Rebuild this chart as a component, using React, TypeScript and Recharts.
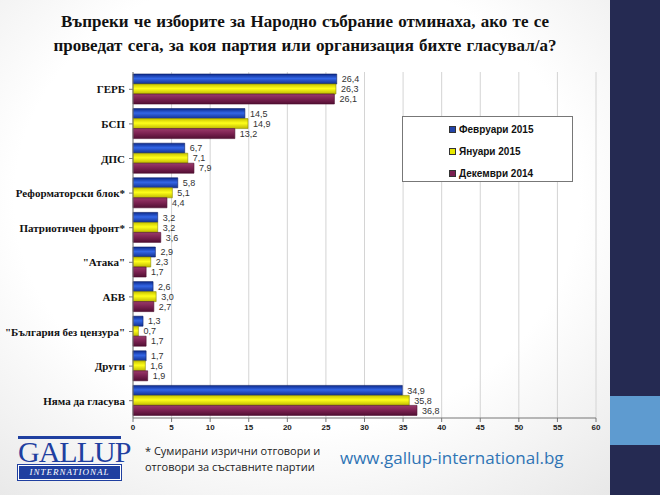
import { BarChart, Bar, XAxis, YAxis, CartesianGrid, LabelList } from "recharts";

const parties = [
  "ГЕРБ",
  "БСП",
  "ДПС",
  "Реформаторски блок*",
  "Патриотичен фронт*",
  "\"Атака\"",
  "АБВ",
  "\"България без цензура\"",
  "Други",
  "Няма да гласува",
];
const feb2015 = [26.4, 14.5, 6.7, 5.8, 3.2, 2.9, 2.6, 1.3, 1.7, 34.9];
const jan2015 = [26.3, 14.9, 7.1, 5.1, 3.2, 2.3, 3.0, 0.7, 1.6, 35.8];
const dec2014 = [26.1, 13.2, 7.9, 4.4, 3.6, 1.7, 2.7, 1.7, 1.9, 36.8];
const xTicks = [0, 5, 10, 15, 20, 25, 30, 35, 40, 45, 50, 55, 60];

const data = parties.map((name, i) => ({
  name,
  feb: feb2015[i],
  jan: jan2015[i],
  dec: dec2014[i],
}));

const series = [
  { key: "feb", label: "Февруари 2015", fill: "url(#gBlue)", marker: "#2244aa", stroke: "#0b1f66" },
  { key: "jan", label: "Януари 2015", fill: "url(#gYellow)", marker: "#e8e800", stroke: "#8a8a00" },
  { key: "dec", label: "Декември 2014", fill: "url(#gMaroon)", marker: "#7a1f4f", stroke: "#4a0a2c" },
];

const fmt = (v: any) => String(Number(v).toFixed(1)).replace(".", ",");

function LegendBox() {
  return (
    <div
      style={{
        position: "absolute",
        left: 402,
        top: 116,
        width: 171,
        height: 66,
        background: "#fff",
        border: "1px solid #777",
        boxSizing: "border-box",
        paddingTop: 1,
        fontFamily: "Arial, 'Liberation Sans', sans-serif",
        fontWeight: "bold",
        fontSize: 10,
        color: "#111",
      }}
    >
      {series.map((s) => (
        <div key={s.key} style={{ display: "flex", alignItems: "center", height: 22, paddingLeft: 46 }}>
          <span style={{ width: 5, height: 5, background: s.marker, border: "0.5px solid #333", marginRight: 3 }} />
          {s.label}
        </div>
      ))}
    </div>
  );
}

function YTick(props: any) {
  const { x, y, payload } = props;
  return (
    <text
      x={x}
      y={y}
      dy={4}
      textAnchor="end"
      fontFamily="'Liberation Serif', 'Times New Roman', serif"
      fontWeight="bold"
      fontSize={11}
      fill="#111"
    >
      {payload.value}
    </text>
  );
}

export default function App() {
  return (
    <div
      style={{
        position: "absolute",
        left: 0,
        top: 0,
        width: 660,
        height: 495,
        overflow: "hidden",
        background: "radial-gradient(ellipse at 45% 40%, #ffffff 55%, #e4e4e4 100%)",
      }}
    >
      <div style={{ position: "absolute", left: 610, top: 0, width: 50, height: 495, background: "#252a52" }} />
      <div style={{ position: "absolute", left: 610, top: 396, width: 50, height: 49, background: "#5e9bd0" }} />

      <div
        style={{
          position: "absolute",
          left: 0,
          top: 10,
          width: 610,
          textAlign: "center",
          fontFamily: "'Liberation Serif', 'Times New Roman', serif",
          fontWeight: "bold",
          fontSize: 17,
          lineHeight: "24px",
          color: "#111",
          wordSpacing: 1,
        }}
      >
        Въпреки че изборите за Народно събрание отминаха, ако те се
        <br />
        проведат сега, за коя партия или организация бихте гласувал/а?
      </div>

      <div style={{ position: "absolute", left: 0, top: 0 }}>
        <BarChart
          width={610}
          height={440}
          data={data}
          layout="vertical"
          margin={{ top: 72, right: 14, bottom: 2, left: 0 }}
          barCategoryGap={2}
          barGap={0}
        >
          <defs>
            <linearGradient id="gBlue" x1="0" y1="0" x2="0" y2="1">
              <stop offset="0%" stopColor="#0d2a8c" />
              <stop offset="45%" stopColor="#3366e6" />
              <stop offset="100%" stopColor="#13308f" />
            </linearGradient>
            <linearGradient id="gYellow" x1="0" y1="0" x2="0" y2="1">
              <stop offset="0%" stopColor="#c9c400" />
              <stop offset="45%" stopColor="#ffff1a" />
              <stop offset="100%" stopColor="#bdb800" />
            </linearGradient>
            <linearGradient id="gMaroon" x1="0" y1="0" x2="0" y2="1">
              <stop offset="0%" stopColor="#9a3a6a" />
              <stop offset="45%" stopColor="#7e2353" />
              <stop offset="100%" stopColor="#520f33" />
            </linearGradient>
          </defs>
          <CartesianGrid horizontal={false} stroke="#d4d4d4" />
          <XAxis
            type="number"
            domain={[0, 60]}
            ticks={xTicks}
            height={20}
            tickSize={4}
            stroke="#777"
            tick={{ fontFamily: "Arial, 'Liberation Sans', sans-serif", fontWeight: "bold", fontSize: 8, fill: "#222" }}
          />
          <YAxis
            type="category"
            dataKey="name"
            width={133}
            tickSize={4}
            tickMargin={4}
            stroke="#777"
            interval={0}
            tick={<YTick />}
          />
          {series.map((s) => (
            <Bar
              key={s.key}
              dataKey={s.key}
              name={s.label}
              fill={s.fill}
              stroke={s.stroke}
              strokeWidth={0.6}
              isAnimationActive={false}
            >
              <LabelList
                dataKey={s.key}
                position="right"
                offset={5}
                formatter={fmt}
                style={{ fontFamily: "Arial, 'Liberation Sans', sans-serif", fontSize: 9, fill: "#333" }}
              />
            </Bar>
          ))}
        </BarChart>
      </div>

      <LegendBox />

      <div style={{ position: "absolute", left: 18, top: 436, width: 103 }}>
        <div style={{ height: 3, background: "#1f3fa0" }} />
        <div
          style={{
            fontFamily: "'Liberation Serif', 'Times New Roman', serif",
            fontSize: 30,
            lineHeight: "26px",
            color: "#1f3fa0",
            textAlign: "center",
            letterSpacing: -1,
          }}
        >
          GALLUP
        </div>
        <div
          style={{
            background: "#1f3fa0",
            color: "#fff",
            fontFamily: "'Liberation Serif', 'Times New Roman', serif",
            fontStyle: "italic",
            fontSize: 9,
            lineHeight: "13px",
            textAlign: "center",
            letterSpacing: 1,
            border: "1px solid #fff",
            outline: "1px solid #1f3fa0",
          }}
        >
          INTERNATIONAL
        </div>
      </div>

      <div
        style={{
          position: "absolute",
          left: 145,
          top: 443,
          fontFamily: "'Open Sans', 'Noto Sans', sans-serif",
          fontSize: 11,
          lineHeight: "16px",
          color: "#222",
        }}
      >
        * Сумирани изрични отговори и
        <br />
        отговори за съставните партии
      </div>
      <div
        style={{
          position: "absolute",
          left: 340,
          top: 446,
          fontFamily: "'Open Sans', 'Noto Sans', sans-serif",
          fontSize: 17,
          color: "#2f74b5",
        }}
      >
        www.gallup-international.bg
      </div>
    </div>
  );
}
